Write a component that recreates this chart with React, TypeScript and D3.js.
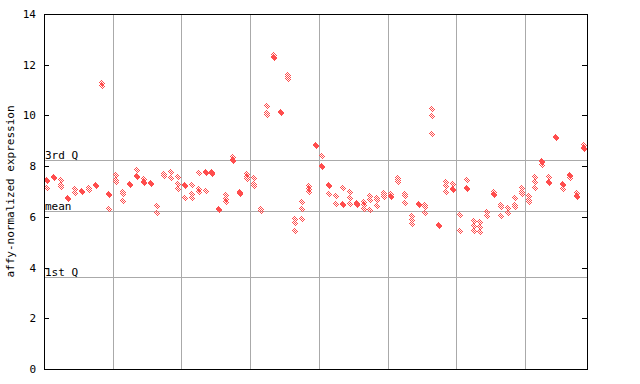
import React from "react";
import * as d3 from "d3";

// Expression values per sample (replicates); near-identical pairs render solid
const sampleValues: number[][] = [
  [7.44, 7.4, 7.14], [7.57, 7.53], [7.45, 7.24, 7.18], [6.75, 6.71], [7.1, 6.95],
  [7.02, 6.98], [7.14, 7.06], [7.24, 7.2], [11.26, 11.18], [6.92, 6.88, 6.3],
  [7.66, 7.45, 7.38], [6.98, 6.9, 6.62], [7.31, 7.27], [7.85, 7.6, 7.56], [7.48, 7.36, 7.33],
  [7.32, 7.28], [6.43, 6.14], [7.7, 7.63, 7.6], [7.78, 7.75, 7.52], [7.58, 7.3, 7.1],
  [7.25, 7.21, 6.73], [7.26, 6.92, 6.73], [7.72, 7.1, 6.98], [7.76, 7.72, 7.02], [7.76, 7.72, 7.68],
  [6.32, 6.26], [6.86, 6.72, 6.6], [8.37, 8.26, 8.22], [6.98, 6.93, 6.89], [7.69, 7.58, 7.5],
  [7.52, 7.3, 7.22], [6.32, 6.22], [10.37, 10.08, 10.02], [12.4, 12.3, 12.26], [10.14, 10.1],
  [11.6, 11.5, 11.42], [5.9, 5.75, 5.45], [6.6, 6.3, 5.9], [7.2, 7.1, 6.98], [8.85, 8.81],
  [8.4, 8.0, 7.96], [7.24, 7.2, 6.89], [6.81, 6.5], [7.12, 6.5, 6.46], [6.97, 6.73, 6.5],
  [6.56, 6.52, 6.48], [6.58, 6.45, 6.32], [6.82, 6.68, 6.27], [6.76, 6.66, 6.44], [6.94, 6.86, 6.8],
  [6.9, 6.83, 6.79], [7.55, 7.45, 7.38], [6.92, 6.82, 6.53], [6.05, 5.88, 5.72], [6.5, 6.46],
  [6.48, 6.38, 6.14], [10.24, 9.97, 9.26], [5.67, 5.63], [7.37, 7.2, 7.0], [7.3, 7.1, 7.06],
  [6.06, 5.44], [7.44, 7.15, 7.1], [5.85, 5.65, 5.44], [5.8, 5.6, 5.42], [6.2, 6.03],
  [7.0, 6.9, 6.86], [6.48, 6.4, 6.03], [6.34, 6.14], [6.73, 6.45, 6.38], [7.12, 7.0, 6.89],
  [6.81, 6.68, 6.6], [7.58, 7.36, 7.12], [8.2, 8.16, 8.03], [7.56, 7.37, 7.33], [9.16, 9.12],
  [7.28, 7.24, 7.1], [7.67, 7.63, 7.55], [6.93, 6.81, 6.77], [8.83, 8.71, 8.67],
];

const yTicks = [0, 2, 4, 6, 8, 10, 12, 14];
const refLabels = ["3rd Q", "mean", "1st Q"];
const refValues = [8.23, 6.23, 3.63];
const groupSize = 10;
const yLabel = "affy-normalized expression";

const W = 640;
const H = 384;
const left = 44;
const right = 587;
const top = 14;
const bottom = 369;
const red = "#ff4d4d";
const font = "'DejaVu Sans Mono', monospace";

export default function App() {
  const n = sampleValues.length;
  const x = d3.scaleBand<number>().domain(d3.range(n)).range([left, right]).paddingInner(0).paddingOuter(0);
  const y = d3.scaleLinear().domain([0, 14]).range([bottom, top]);
  const half = x.bandwidth() / 2;

  const groupLines: number[] = [];
  for (let i = groupSize; i < n; i += groupSize) groupLines.push(Math.round(x(i)!) + 0.5);

  const px = (v: number) => Math.round(v) + 0.5;

  const points: { cx: number; cy: number; key: string }[] = [];
  sampleValues.forEach((vals, i) => {
    vals.forEach((v, j) => {
      points.push({ cx: Math.round(x(i)! + half), cy: Math.round(y(v)), key: `${i}-${j}` });
    });
  });

  const diamond = "M0,-3.5 L3,0 L0,3.5 L-3,0 Z";

  return (
    <svg width={W} height={H} style={{ position: "absolute", left: 0, top: 0, background: "#fff" }}>
      <defs>
        <pattern id="checker" patternUnits="userSpaceOnUse" width={2} height={2}>
          <rect x={0} y={0} width={1} height={1} fill={red} />
          <rect x={1} y={1} width={1} height={1} fill={red} />
        </pattern>
      </defs>
      <rect x={0} y={0} width={W} height={H} fill="#fff" />
      {groupLines.map((gx) => (
        <line key={gx} x1={gx} x2={gx} y1={top} y2={bottom} stroke="#aaaaaa" strokeWidth={1} />
      ))}
      {refValues.map((v, k) => (
        <g key={refLabels[k]}>
          <line x1={left} x2={right} y1={px(y(v))} y2={px(y(v))} stroke="#aaaaaa" strokeWidth={1} />
          <text x={left + 1} y={Math.round(y(v)) - 1} fontFamily={font} fontSize={11} fill="#000">
            {refLabels[k]}
          </text>
        </g>
      ))}
      {points.map((p) => (
        <path
          key={p.key}
          d={diamond}
          transform={`translate(${p.cx},${p.cy})`}
          fill="url(#checker)"
          shapeRendering="crispEdges"
        />
      ))}
      <rect x={left + 0.5} y={top + 0.5} width={right - left} height={bottom - top} fill="none" stroke="#000" strokeWidth={1} />
      {yTicks.map((t) => (
        <g key={t}>
          <line x1={left} x2={left + 5} y1={px(y(t))} y2={px(y(t))} stroke="#000" />
          <line x1={right - 5} x2={right} y1={px(y(t))} y2={px(y(t))} stroke="#000" />
          <text x={36} y={y(t) + 4} textAnchor="end" fontFamily={font} fontSize={11} fill="#000">
            {t}
          </text>
        </g>
      ))}
      <text
        transform={`translate(14,${(top + bottom) / 2}) rotate(-90)`}
        textAnchor="middle"
        fontFamily={font}
        fontSize={11}
        fill="#000"
      >
        {yLabel}
      </text>
    </svg>
  );
}
